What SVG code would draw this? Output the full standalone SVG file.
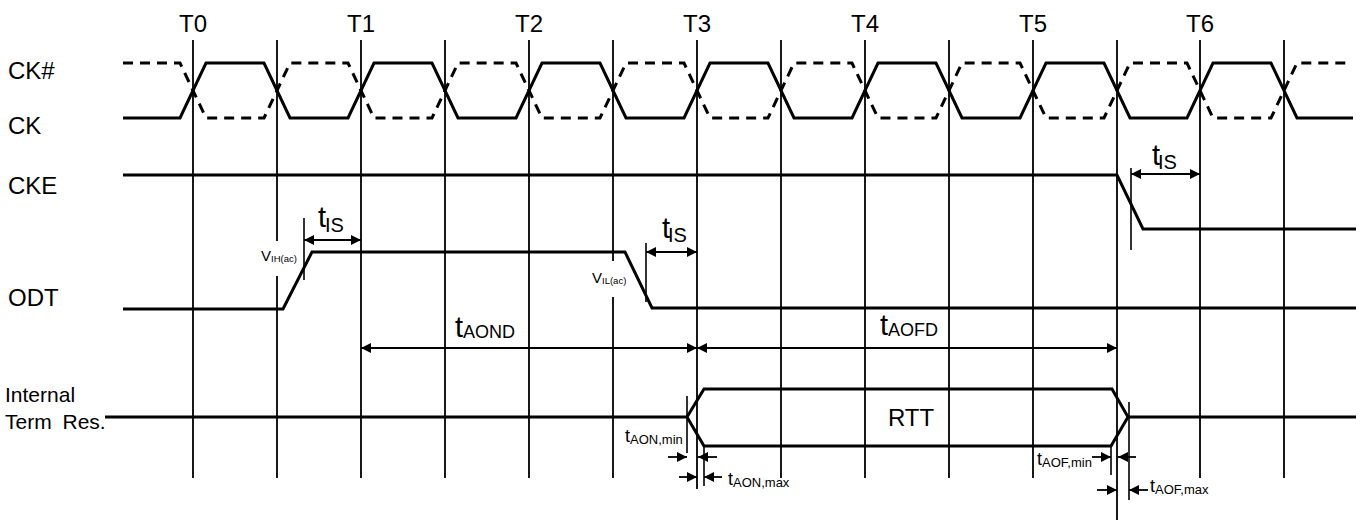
<svg xmlns="http://www.w3.org/2000/svg" width="1366" height="523" viewBox="0 0 1366 523">
<style>
text{font-family:"Liberation Sans",Arial,sans-serif;fill:#000}
.grid{stroke:#000;stroke-width:1.8;fill:none}
.wave{stroke:#000;stroke-width:3;fill:none;stroke-linejoin:miter}
.dash{stroke:#000;stroke-width:3;fill:none;stroke-dasharray:10,7}
.tick{stroke:#000;stroke-width:1.6;fill:none}
.arr{stroke:#000;stroke-width:1.8;fill:none;marker-end:url(#ah)}
.arr2{stroke:#000;stroke-width:1.8;fill:none;marker-end:url(#ah);marker-start:url(#ah)}
.big{font-size:24px}
.lbl{font-size:21px}
</style>
<defs>
<marker id="ah" viewBox="0 0 10 10" refX="10" refY="5" markerWidth="10" markerHeight="10" markerUnits="userSpaceOnUse" orient="auto-start-reverse">
<path d="M0,0 L10,5 L0,10 z" fill="#000"/>
</marker>
</defs>
<rect width="1366" height="523" fill="#fff"/>
<g id="grid">
<path class="grid" d="M193,40V478 M277,40V478 M361,40V478 M445,40V478 M529,40V478 M613,40V478 M697,40V489 M781,40V478 M865,40V478 M949,40V478 M1033,40V478 M1117,40V520 M1200,40V478 M1284,40V478"/>
</g>
<g id="time-labels" class="big" text-anchor="middle">
<text x="193" y="32">T0</text>
<text x="361" y="32">T1</text>
<text x="529" y="32">T2</text>
<text x="697" y="32">T3</text>
<text x="865" y="32">T4</text>
<text x="1033" y="32">T5</text>
<text x="1200" y="32">T6</text>
</g>
<g id="signal-labels">
<text class="big" x="8" y="79">CK#</text>
<text class="big" x="8" y="134">CK</text>
<text class="big" x="8" y="194">CKE</text>
<text class="big" x="8" y="306">ODT</text>
<text class="lbl" x="5" y="402">Internal</text>
<text class="lbl" x="5" y="429" word-spacing="5">Term Res.</text>
</g>
<g id="ck-bar">
<path class="dash" d="M123,63 H180 L206,118 H264 L290,63 H348 L374,118 H432 L458,63 H516 L542,118 H600 L626,63 H684 L710,118 H768 L794,63 H852 L878,118 H936 L962,63 H1020 L1046,118 H1104 L1130,63 H1187 L1213,118 H1271 L1297,63 H1347"/>
</g>
<g id="ck">
<path class="wave" d="M123,118 H180 L206,63 H264 L290,118 H348 L374,63 H432 L458,118 H516 L542,63 H600 L626,118 H684 L710,63 H768 L794,118 H852 L878,63 H936 L962,118 H1020 L1046,63 H1104 L1130,118 H1187 L1213,63 H1271 L1297,118 H1353"/>
</g>
<g id="cke">
<path class="wave" d="M123,175 H1117 L1143,229 H1356"/>
</g>
<g id="odt">
<rect x="257" y="241" width="41" height="35" fill="#fff"/>
<rect x="589" y="261" width="40" height="36" fill="#fff"/>
<path class="wave" d="M123,309 H283 L312,252 H625 L652,308 H1356"/>
<text x="261" y="261" font-size="15">V<tspan font-size="9.5" dy="1">IH(ac)</tspan></text>
<text x="592" y="283" font-size="15">V<tspan font-size="9.5" dy="1">IL(ac)</tspan></text>
</g>
<g id="rtt">
<path class="wave" d="M105,417 H687 L704,389 H1112 L1128,417 H1356 M687,417 L704,446 H1111 L1128,417"/>
<text class="big" x="911" y="426" text-anchor="middle">RTT</text>
</g>
<g id="connectors">
<path class="tick" d="M304,218V280 M646,243V302 M1131,168V250 M687,396V453 M704,445V486 M1111,445V475 M1129,402V500"/>
<line class="arr2" x1="304" y1="240" x2="361" y2="240"/>
<line class="arr2" x1="646" y1="252" x2="697" y2="252"/>
<line class="arr2" x1="1131" y1="174" x2="1200" y2="174"/>
<line class="arr2" x1="361" y1="348" x2="697" y2="348"/>
<line class="arr2" x1="697" y1="348" x2="1117" y2="348"/>
<line class="arr" x1="668" y1="457" x2="687" y2="457"/>
<line class="arr" x1="717" y1="457" x2="698" y2="457"/>
<line class="arr" x1="679" y1="477" x2="697" y2="477"/>
<line class="arr" x1="722" y1="477" x2="704" y2="477"/>
<line class="arr" x1="1092" y1="457" x2="1111" y2="457"/>
<line class="arr" x1="1136" y1="457" x2="1118" y2="457"/>
<line class="arr" x1="1097" y1="490" x2="1117" y2="490"/>
<line class="arr" x1="1148" y1="490" x2="1129" y2="490"/>
</g>
<g id="timing-labels">
<text x="318" y="227" font-size="29">t<tspan x="325" dy="5" font-size="20">IS</tspan></text>
<text x="662" y="238" font-size="29">t<tspan x="668" dy="4" font-size="20">IS</tspan></text>
<text x="1152" y="165" font-size="29">t<tspan x="1158" dy="4" font-size="20">IS</tspan></text>
<text x="455" y="337" font-size="29">t<tspan x="463" dy="1" font-size="18">AOND</tspan></text>
<text x="880" y="335" font-size="29">t<tspan x="888" dy="1" font-size="18">AOFD</tspan></text>
<text x="625" y="442" font-size="18">t<tspan dy="2" font-size="13">AON,min</tspan></text>
<text x="728" y="485" font-size="18">t<tspan dy="2" font-size="13">AON,max</tspan></text>
<text x="1037" y="465" font-size="18">t<tspan dy="2" font-size="13">AOF,min</tspan></text>
<text x="1150" y="492" font-size="18">t<tspan dy="2" font-size="13">AOF,max</tspan></text>
</g>
</svg>
